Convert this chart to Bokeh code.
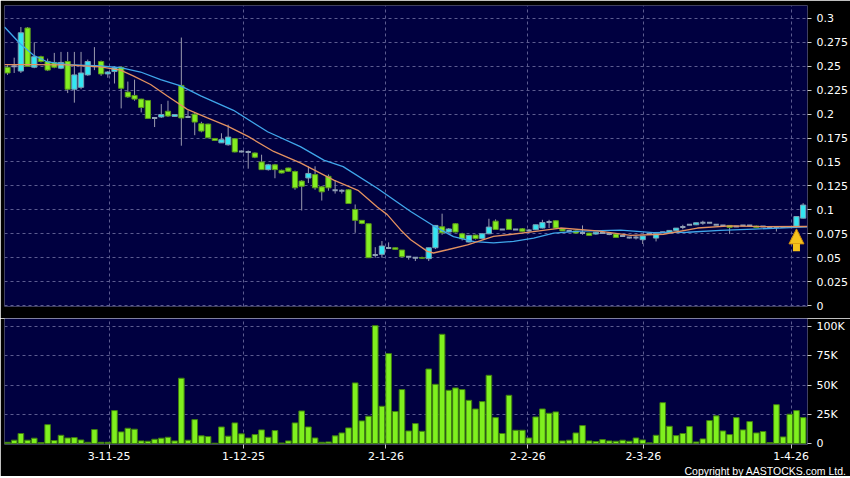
import numpy as np
from bokeh.plotting import figure
from bokeh.layouts import column
from bokeh.models import FixedTicker, Grid, Range1d, Arrow, NormalHead, Title
from bokeh.embed import file_html
from bokeh.resources import INLINE

# ---------------- data ----------------
opens = [0.249, 0.250, 0.245, 0.290, 0.249, 0.260, 0.255, 0.254, 0.248, 0.255,
         0.226, 0.228, 0.241, 0.250, 0.255, 0.242, 0.2445, 0.249, 0.223, 0.2195,
         0.2157, 0.2143, 0.196, 0.197, 0.203, 0.1976, 0.230, 0.197, 0.200, 0.190,
         0.1896, 0.1746, 0.170, 0.168, 0.1743, 0.161, 0.1605, 0.1594, 0.150, 0.142,
         0.147, 0.1413, 0.1437, 0.140, 0.130, 0.1333, 0.1368, 0.124, 0.135, 0.1205,
         0.120, 0.121, 0.1004, 0.089, 0.0855, 0.0528, 0.0535, 0.060, 0.0604, 0.058,
         0.051, 0.050, 0.050, 0.049, 0.0604, 0.0823, 0.0768, 0.0855, 0.075, 0.0664,
         0.0736, 0.070, 0.075, 0.0882, 0.0795, 0.090, 0.0795, 0.0802, 0.0785, 0.0792,
         0.081, 0.0872, 0.0886, 0.080, 0.078, 0.078, 0.0757, 0.0757, 0.0747, 0.0757,
         0.0747, 0.0747, 0.0726, 0.0712, 0.0712, 0.0688, 0.0747, 0.0705, 0.0767, 0.0764,
         0.0785, 0.082, 0.0844, 0.0844, 0.0865, 0.0865, 0.0844, 0.0837, 0.0837, 0.0826,
         0.0837, 0.0837, 0.083, 0.0826, 0.082, 0.082, 0.082, 0.082, 0.0826, 0.0913]
highs = [0.251, 0.259, 0.291, 0.291, 0.275, 0.261, 0.258, 0.264, 0.265, 0.265,
         0.265, 0.265, 0.257, 0.270, 0.256, 0.245, 0.250, 0.250, 0.234, 0.236,
         0.216, 0.2145, 0.197, 0.2105, 0.214, 0.200, 0.280, 0.204, 0.201, 0.192,
         0.190, 0.1746, 0.180, 0.189, 0.175, 0.162, 0.162, 0.160, 0.1576, 0.148,
         0.148, 0.142, 0.144, 0.141, 0.131, 0.1455, 0.1455, 0.125, 0.137, 0.131,
         0.1215, 0.1215, 0.1056, 0.089, 0.0855, 0.061, 0.0674, 0.066, 0.0606, 0.058,
         0.0515, 0.0505, 0.051, 0.0604, 0.084, 0.096, 0.081, 0.086, 0.076, 0.0735,
         0.074, 0.0755, 0.0907, 0.090, 0.080, 0.090, 0.080, 0.081, 0.080, 0.0845,
         0.0896, 0.0896, 0.089, 0.0805, 0.079, 0.0785, 0.0837, 0.076, 0.0768, 0.077,
         0.075, 0.075, 0.073, 0.0715, 0.0733, 0.0726, 0.075, 0.075, 0.077, 0.0785,
         0.081, 0.0844, 0.0846, 0.0866, 0.0886, 0.087, 0.085, 0.084, 0.084, 0.083,
         0.084, 0.084, 0.0835, 0.083, 0.0825, 0.0825, 0.0825, 0.0825, 0.0935, 0.107]
lows = [0.241, 0.243, 0.243, 0.250, 0.248, 0.254, 0.245, 0.248, 0.247, 0.222,
        0.212, 0.226, 0.240, 0.246, 0.240, 0.238, 0.232, 0.206, 0.217, 0.214,
        0.2018, 0.195, 0.1865, 0.196, 0.197, 0.197, 0.167, 0.196, 0.178, 0.181,
        0.175, 0.172, 0.170, 0.167, 0.160, 0.160, 0.143, 0.154, 0.142, 0.141,
        0.133, 0.138, 0.140, 0.121, 0.0993, 0.128, 0.121, 0.1097, 0.120, 0.117,
        0.117, 0.1066, 0.076, 0.085, 0.050, 0.050, 0.050, 0.059, 0.0585, 0.051,
        0.048, 0.0465, 0.049, 0.0465, 0.059, 0.074, 0.076, 0.0765, 0.068, 0.066,
        0.069, 0.069, 0.0745, 0.079, 0.079, 0.0795, 0.079, 0.077, 0.077, 0.079,
        0.0805, 0.081, 0.081, 0.078, 0.0775, 0.0757, 0.074, 0.0733, 0.074, 0.075,
        0.0735, 0.071, 0.072, 0.070, 0.069, 0.0643, 0.074, 0.067, 0.076, 0.076,
        0.078, 0.0796, 0.084, 0.084, 0.0844, 0.086, 0.084, 0.083, 0.0747, 0.082,
        0.083, 0.083, 0.0815, 0.082, 0.0815, 0.0774, 0.0815, 0.0815, 0.0813, 0.091]
closes = [0.243, 0.250, 0.285, 0.250, 0.260, 0.255, 0.246, 0.249, 0.254, 0.226,
          0.241, 0.243, 0.255, 0.250, 0.242, 0.244, 0.2486, 0.227, 0.218, 0.2157,
          0.207, 0.1955, 0.196, 0.1996, 0.198, 0.1996, 0.196, 0.197, 0.1917, 0.1823,
          0.1753, 0.1725, 0.1733, 0.176, 0.1605, 0.161, 0.1605, 0.155, 0.142, 0.147,
          0.142, 0.1385, 0.1403, 0.123, 0.1247, 0.138, 0.123, 0.1188, 0.123, 0.1205,
          0.120, 0.1066, 0.089, 0.0858, 0.050, 0.0528, 0.0622, 0.060, 0.0587, 0.051,
          0.051, 0.050, 0.0495, 0.0604, 0.0837, 0.076, 0.080, 0.0768, 0.0698, 0.0733,
          0.070, 0.075, 0.082, 0.0795, 0.0795, 0.0795, 0.0795, 0.0775, 0.0785, 0.0844,
          0.0868, 0.0872, 0.081, 0.078, 0.078, 0.0757, 0.0757, 0.0733, 0.0767, 0.0757,
          0.0747, 0.0712, 0.0726, 0.0712, 0.0712, 0.0726, 0.0747, 0.075, 0.0767, 0.0785,
          0.0809, 0.082, 0.0844, 0.0865, 0.0865, 0.0865, 0.0844, 0.0837, 0.0816, 0.0826,
          0.0837, 0.0837, 0.0816, 0.0826, 0.082, 0.082, 0.082, 0.082, 0.093, 0.105]
volumes_k = [1.1, 2.9, 8.6, 2.9, 4.6, 0.9, 16.2, 2.6, 7.1, 4.8,
             5.1, 3.1, 1.1, 12.0, 1.1, 1.1, 28.2, 10.0, 13.1, 12.3,
             2.3, 2.0, 3.7, 4.6, 5.4, 2.3, 55.9, 2.9, 20.5, 6.6,
             6.0, 0.3, 14.2, 6.3, 17.7, 8.3, 4.8, 7.7, 11.7, 5.4,
             11.1, 0.5, 2.3, 17.7, 27.9, 14.2, 4.8, 1.1, 1.4, 6.6,
             9.1, 13.4, 51.9, 19.4, 23.4, 100.9, 31.9, 77.0, 27.4, 46.2,
             10.8, 17.1, 10.5, 63.8, 50.7, 93.5, 45.6, 47.6, 46.2, 37.0,
             29.6, 35.9, 58.4, 22.2, 8.6, 41.3, 11.4, 11.4, 4.8, 22.8,
             29.6, 25.9, 27.1, 2.3, 2.9, 9.1, 15.4, 2.3, 1.7, 3.4,
             2.3, 2.0, 2.9, 2.0, 4.8, 3.1, 0.6, 7.1, 35.0, 14.8,
             6.8, 8.6, 14.5, 1.4, 4.0, 19.7, 23.7, 10.8, 7.7, 22.2,
             11.7, 18.8, 9.1, 10.3, 0.9, 33.3, 5.7, 25.1, 28.2, 22.2]

# moving averages, sampled along the bars (bar index, price)
ma_fast_idx = [-0.45, 3.9, 9, 13.9, 16.9, 18.8, 21.4, 23.9, 26.9, 29.9, 32.9, 35.9,
               39.8, 43.8, 48.8, 52.5, 55.3, 56.8, 58.8, 60.3, 62.8, 63.7, 65.8,
               68.8, 72.7, 77.8, 82.7, 88.2, 93.2, 98.1, 103.2, 108.1, 113.1, 119.6]
ma_fast = [0.2517, 0.2517, 0.2515, 0.2493, 0.246, 0.240, 0.231, 0.219, 0.205, 0.196,
           0.1875, 0.177, 0.161, 0.149, 0.131, 0.120, 0.103, 0.095, 0.079, 0.0688,
           0.0566, 0.0549, 0.0583, 0.0635, 0.0722, 0.0764, 0.081, 0.078, 0.0733,
           0.0745, 0.081, 0.0833, 0.0825, 0.0826]
ma_slow_idx = [-0.45, 1.9, 3.9, 6, 9, 13.9, 16.9, 19.9, 22.9, 25.9, 28.9, 33.8, 38.9,
               43.8, 47.3, 50.2, 55.3, 60.3, 63.7, 66.7, 69.8, 72.7, 75.7, 78.7,
               81.7, 85.7, 91.7, 96.6, 101.7, 106.6, 111.6, 119.6]
ma_slow = [0.291, 0.2736, 0.2615, 0.2545, 0.2517, 0.2503, 0.2486, 0.244, 0.236,
           0.2295, 0.219, 0.204, 0.1816, 0.166, 0.152, 0.1451, 0.1226, 0.0983,
           0.0833, 0.072, 0.0668, 0.0655, 0.067, 0.0705, 0.0757, 0.0778, 0.0788,
           0.0762, 0.0766, 0.0785, 0.0799, 0.0822]

date_tick_pos = [15.2, 35.3, 56.6, 77.8, 95.1, 117.2]
date_tick_labels = ["3-11-25", "1-12-25", "2-1-26", "2-2-26", "2-3-26", "1-4-26"]
price_ticks = [0, 0.025, 0.05, 0.075, 0.1, 0.125, 0.15, 0.175, 0.2, 0.225, 0.25, 0.275, 0.3]
price_tick_labels = ["0", "0.025", "0.05", "0.075", "0.1", "0.125", "0.15", "0.175",
                     "0.2", "0.225", "0.25", "0.275", "0.3"]
vol_ticks = [0, 25, 50, 75, 100]
vol_tick_labels = ["0", "25K", "50K", "75K", "100K"]
marker_bar = 118
copyright_text = "Copyright by AASTOCKS.com Ltd."

# ---------------- styles ----------------
BG = "#000040"
GRID = "#5c5c90"
UP_FILL, UP_EDGE = "#33e6f2", "#7a9fb2"
DN_FILL, DN_EDGE = "#84ee22", "#5a9a1a"
WICK = "#9a9aae"
DOJI = "#8fa0b4"
VOL_FILL, VOL_EDGE = "#7ff01e", "#3f7e10"
FONT = "DejaVu Sans"

o = np.array(opens); h = np.array(highs); l = np.array(lows); c = np.array(closes)
idx = np.arange(len(o))
up = c > o
dn = c < o
fl = c == o

x_range = Range1d(-0.45, 119.65)

def style_axis(ax):
    ax.axis_line_color = None
    ax.major_tick_line_color = "#c8c8c8"
    ax.major_tick_in = 0
    ax.major_tick_out = 4
    ax.minor_tick_line_color = None
    ax.major_label_text_color = "#ffffff"
    ax.major_label_text_font = FONT
    ax.major_label_text_font_size = "11px"
    ax.major_label_standoff = 5

def add_grids(p, yticks):
    p.add_layout(Grid(dimension=0, ticker=FixedTicker(ticks=date_tick_pos),
                      grid_line_color=GRID, grid_line_dash="3 3", grid_line_width=1))
    p.add_layout(Grid(dimension=1, ticker=FixedTicker(ticks=yticks),
                      grid_line_color=GRID, grid_line_dash="3 3", grid_line_width=1))

# ---------------- price panel ----------------
p1 = figure(frame_width=803, frame_height=301, x_range=x_range,
            y_range=Range1d(-0.001, 0.3135), x_axis_location=None,
            y_axis_location="right", toolbar_location=None, output_backend="svg",
            background_fill_color=BG, border_fill_color="black",
            min_border_left=4, min_border_right=43, min_border_top=5,
            min_border_bottom=12, outline_line_color=None)
p1.grid.visible = False
add_grids(p1, price_ticks)
style_axis(p1.yaxis[0])
p1.yaxis[0].ticker = FixedTicker(ticks=price_ticks)
p1.yaxis[0].major_label_overrides = dict(zip(price_ticks, price_tick_labels))

p1.segment(idx, h, idx, l, line_color=WICK, line_width=1)
p1.vbar(x=idx[up], width=0.78, bottom=o[up], top=c[up],
        fill_color=UP_FILL, line_color=UP_EDGE, line_width=1)
p1.vbar(x=idx[dn], width=0.78, bottom=c[dn], top=o[dn],
        fill_color=DN_FILL, line_color=DN_EDGE, line_width=1)
p1.segment(idx[fl] - 0.39, o[fl], idx[fl] + 0.39, o[fl], line_color=DOJI, line_width=2)

p1.line(ma_slow_idx, ma_slow, line_color="#3fa6ea", line_width=1.3)
p1.line(ma_fast_idx, ma_fast, line_color="#e39160", line_width=1.3)

y_tip = lows[marker_bar] - 0.0012
p1.add_layout(Arrow(end=NormalHead(size=15, fill_color="#f6c31c", line_color="#d28e0c",
                                   line_width=1),
                    x_start=marker_bar, x_end=marker_bar,
                    y_start=y_tip - 0.0235, y_end=y_tip,
                    line_color="#f6c31c", line_width=7))

# ---------------- volume panel ----------------
p2 = figure(frame_width=803, frame_height=126, x_range=x_range,
            y_range=Range1d(-0.8, 107), y_axis_location="right",
            toolbar_location=None, output_backend="svg",
            background_fill_color=BG, border_fill_color="black",
            min_border_left=4, min_border_right=43, min_border_top=0,
            min_border_bottom=0, outline_line_color=None)
p2.grid.visible = False
add_grids(p2, vol_ticks)
style_axis(p2.yaxis[0])
p2.yaxis[0].ticker = FixedTicker(ticks=vol_ticks)
p2.yaxis[0].major_label_overrides = dict(zip(vol_ticks, vol_tick_labels))
style_axis(p2.xaxis[0])
p2.xaxis[0].ticker = FixedTicker(ticks=date_tick_pos)
p2.xaxis[0].major_label_overrides = dict(zip(date_tick_pos, date_tick_labels))
p2.xaxis[0].major_label_standoff = 3

p2.vbar(x=idx, width=0.84, top=volumes_k, bottom=0,
        fill_color=VOL_FILL, line_color=VOL_EDGE, line_width=1)

p2.add_layout(Title(text=copyright_text, align="right", text_color="#ffffff",
                    text_font="Liberation Sans", text_font_size="10.5px",
                    text_font_style="normal", standoff=0, offset=-39), "below")

layout = column(p1, p2, spacing=0)
open("out.html", "w").write(file_html(layout, INLINE))
